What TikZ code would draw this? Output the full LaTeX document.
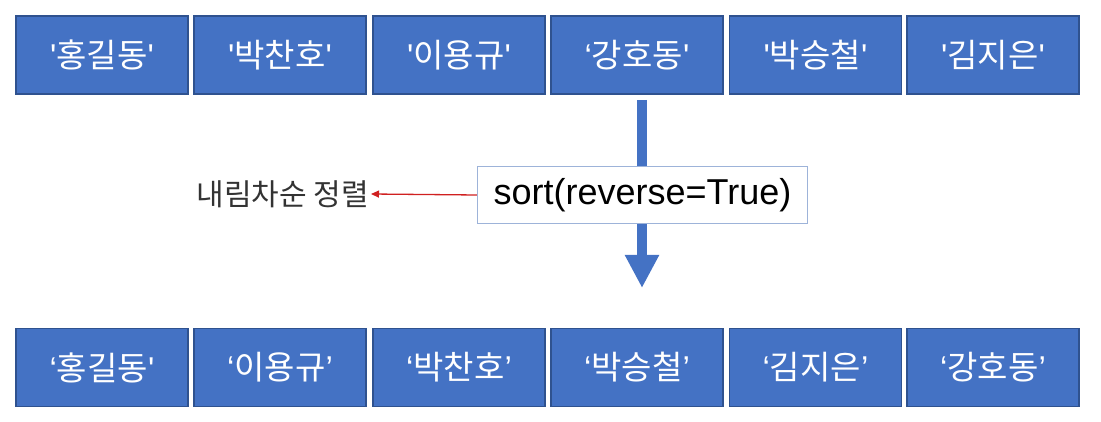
\documentclass[tikz,border=0pt]{standalone}
\usepackage{fontspec}
\setmainfont{Liberation Sans}[Ligatures=TeXOff]
\newfontfamily\kr{Noto Sans CJK KR}
\usetikzlibrary{arrows.meta}
\definecolor{boxblue}{HTML}{4472C4}
\definecolor{boxedge}{HTML}{2F528F}
\definecolor{sortedge}{HTML}{9DB3D9}
\definecolor{redline}{HTML}{D02020}
\definecolor{labeltext}{HTML}{333333}
\newcommand{\ql}{‘}
\newcommand{\qr}{’}
\newcommand{\qs}{'}
\begin{document}
\begin{tikzpicture}[x=1pt,y=-1pt,
  cell/.style={draw=boxedge, line width=1.6pt, fill=boxblue, minimum width=172pt,
    minimum height=78pt, inner sep=0pt, text=white, font=\fontsize{33}{38}\selectfont},
  sortbox/.style={draw=sortedge, line width=1.2pt, fill=white, minimum width=330pt,
    minimum height=57pt, inner sep=0pt, text=black, font=\fontsize{36}{41}\selectfont},
  bigarrow/.style={draw=boxblue, line width=10pt, -{Triangle[width=32pt,length=33pt]}},
  redarrow/.style={draw=redline, line width=1.3pt, -{Triangle[width=7pt,length=8pt]}},
  labelnode/.style={text=labeltext, font=\kr\fontsize{30}{34}\selectfont, inner sep=2pt}]
\useasboundingbox (0,0) rectangle (1101,422);
% top row
\node[cell] (t1) at (102,55) {\qs{\kr 홍길동}\qs};
\node[cell] (t2) at (280,55) {\qs{\kr 박찬호}\qs};
\node[cell] (t3) at (459,55) {\qs{\kr 이용규}\qs};
\node[cell] (t4) at (637,55) {\ql{\kr 강호동}\qs};
\node[cell] (t5) at (815.5,55) {\qs{\kr 박승철}\qs};
\node[cell] (t6) at (993,55) {\qs{\kr 김지은}\qs};
% bottom row
\node[cell] (b1) at (102,367.5) {\ql{\kr 홍길동}\qs};
\node[cell] (b2) at (280,367.5) {\ql{\kr 이용규}\qr};
\node[cell] (b3) at (459,367.5) {\ql{\kr 박찬호}\qr};
\node[cell] (b4) at (637,367.5) {\ql{\kr 박승철}\qr};
\node[cell] (b5) at (815.5,367.5) {\ql{\kr 김지은}\qr};
\node[cell] (b6) at (993,367.5) {\ql{\kr 강호동}\qr};
% big arrow
\coordinate (astart) at (642,100);
\coordinate (aend) at (642,288);
\draw[bigarrow] (astart) -- (aend);
% sort box
\node[sortbox] (sort) at (642.5,195) {sort(reverse=True)};
% label
\node[labelnode, anchor=east] (lbl) at (371,194) {내림차순 정렬};
\draw[redarrow] (sort.west) -- (lbl.east);
\end{tikzpicture}
\end{document}
